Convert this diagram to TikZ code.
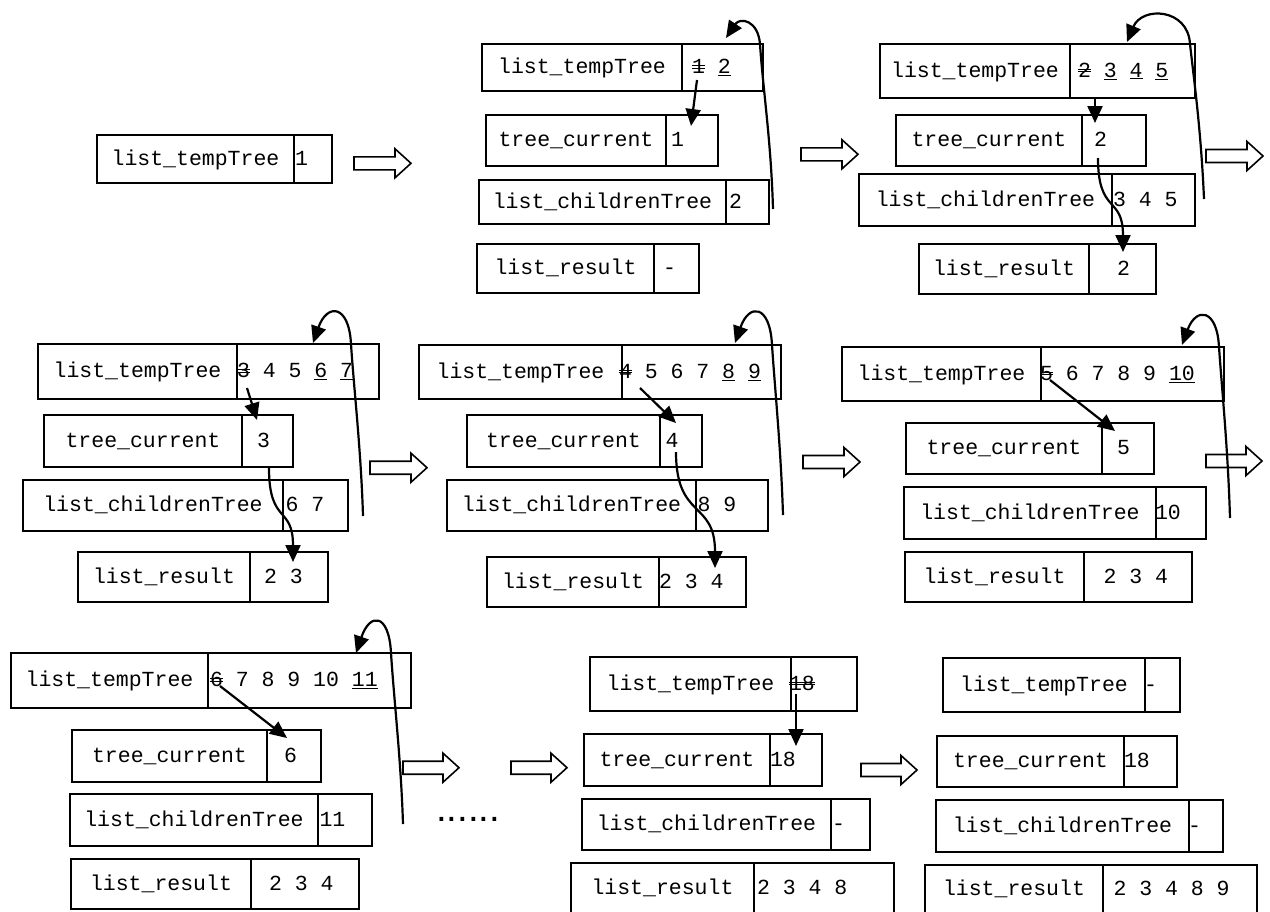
\documentclass[tikz,border=0pt]{standalone}
\usepackage{fontspec}
\newfontfamily\cour{Liberation Mono}
\newfontfamily\sansf{Liberation Sans}
\usetikzlibrary{arrows.meta}
\newcommand\stk[1]{\setbox0\hbox{#1}\rlap{\raisebox{0.22em}{\rule{\wd0}{0.05em}}}\rlap{\raisebox{0.34em}{\rule{\wd0}{0.05em}}}#1}
\newcommand\udl[1]{\underline{#1}}
\tikzset{
  cell/.style={draw, line width=1.6pt, inner sep=0pt, outer sep=0pt,
    font={\cour\fontsize{21.5}{24}\selectfont}, text height=13.3pt, text depth=1pt},
  val/.style={inner sep=0pt, outer sep=0pt, anchor=west,
    font={\cour\fontsize{21.5}{24}\selectfont}, text height=13.3pt, text depth=1pt},
  arr/.style={line width=2.2pt, -{Triangle[length=17pt,width=15pt]}},
  hol/.style={draw, line width=1.6pt, fill=white, line join=miter},
}
% name, x1, xdiv, x2, y1, y2, label, value-x, value
\newcommand\bx[9]{%
  \pgfmathsetmacro\bxwa{#3-#2}\pgfmathsetmacro\bxwb{#4-#3}%
  \pgfmathsetmacro\bxh{#6-#5}\pgfmathsetmacro\bxyc{(#5+#6)/2}%
  \pgfmathsetmacro\bxxa{(#2+#3)/2}\pgfmathsetmacro\bxxb{(#3+#4)/2}%
  \node[cell, minimum width=\bxwa, minimum height=\bxh] (#1l) at (\bxxa,\bxyc) {#7};
  \node[cell, minimum width=\bxwb, minimum height=\bxh] (#1v) at (\bxxb,\bxyc) {};
  \node[val] (#1t) at (#8,\bxyc) {#9};
}
\newcommand\harr[4]{% name, x0, x1, yc
  \coordinate (#1) at (#2,#4);
  \draw[hol] (#2,{#4-6.5}) -- ({#3-16},{#4-6.5}) -- ({#3-16},{#4-14.5}) -- (#3,#4)
     -- ({#3-16},{#4+14.5}) -- ({#3-16},{#4+6.5}) -- (#2,{#4+6.5}) -- cycle;
}
\newcommand\LT{list\_tempTree}
\newcommand\TC{tree\_current}
\newcommand\LK{list\_childrenTree}
\newcommand\LR{list\_result}
\begin{document}
\begin{tikzpicture}[x=1pt,y=-1pt]
\useasboundingbox (0,0) rectangle (1270,911);
\clip (0,0) rectangle (1270,911);
\fill[white] (0,0) rectangle (1270,911);

% hollow step arrows
\harr{h1}{354}{411}{163.3}
\harr{h2}{801}{858}{154.3}
\harr{h3}{1206}{1263}{156}
\harr{h4}{370}{427}{467.7}
\harr{h5}{803}{860}{462}
\harr{h6}{1206}{1262}{461}
\harr{h7}{403}{459}{767.7}
\harr{h8}{511}{567}{767.7}
\harr{h9}{861}{917}{770}

% panel A
\bx{AT}{97}{294}{332}{135}{183}{\LT}{295}{1}
% panel B
\bx{BT}{482}{682}{763}{44}{91}{\LT}{692}{\stk{1} \udl{2}}
\bx{BC}{486}{666}{718}{115}{166}{\TC}{671}{1}
\bx{BK}{479}{726}{769}{180}{224}{\LK}{729}{2}
\bx{BR}{477}{654}{699}{244}{293}{\LR}{663}{-}
% panel C
\bx{CT}{880}{1070}{1195}{44}{98}{\LT}{1078}{\stk{2} \udl{3} \udl{4} \udl{5}}
\bx{CC}{896}{1082}{1146}{115}{166}{\TC}{1094}{2}
\bx{CK}{859}{1112}{1195}{174}{226}{\LK}{1113}{3 4 5}
\bx{CR}{919}{1089}{1156}{244}{294}{\LR}{1117}{2}
% panel D
\bx{DT}{38}{237}{379}{344}{399}{\LT}{237}{\stk{3} 4 5 \udl{6} \udl{7}}
\bx{DC}{44}{242}{293}{415}{467}{\TC}{257}{3}
\bx{DK}{23}{283}{348}{480}{531}{\LK}{285.5}{6 7}
\bx{DR}{78}{250}{328}{552}{602}{\LR}{264}{2 3}
% panel E
\bx{ET}{419}{622}{781}{345}{399}{\LT}{619}{\stk{4} 5 6 7 \udl{8} \udl{9}}
\bx{EC}{467}{660}{702}{415}{467}{\TC}{665.5}{4}
\bx{EK}{447}{696}{768}{480}{531}{\LK}{697.5}{8 9}
\bx{ER}{487}{659}{746}{557}{607}{\LR}{659}{2 3 4}
% panel F
\bx{FT}{842}{1041}{1224}{347}{401}{\LT}{1040}{\stk{5} 6 7 8 9 \udl{10}}
\bx{FC}{906}{1102}{1154}{423}{474}{\TC}{1117}{5}
\bx{FK}{904}{1156}{1206}{487}{539}{\LK}{1155}{10}
\bx{FR}{905}{1084}{1192}{552}{602}{\LR}{1103.5}{2 3 4}
% panel G
\bx{GT}{11}{208}{411}{653}{708}{\LT}{210}{\stk{6} 7 8 9 10 \udl{11}}
\bx{GC}{72}{267}{321}{730}{782}{\TC}{284}{6}
\bx{GK}{70}{318}{372}{794}{846}{\LK}{319.5}{11}
\bx{GR}{71}{251}{359}{859}{909}{\LR}{269}{2 3 4}
% panel H
\bx{HT}{590}{791}{857}{657}{711}{\LT}{789}{\stk{18}}
\bx{HC}{584}{770}{822}{734}{786}{\TC}{770}{18}
\bx{HK}{582}{831}{870}{799}{850}{\LK}{832}{-}
\bx{HR}{571}{754}{894}{863}{914}{\LR}{757}{2 3 4 8}
% panel I
\bx{IT}{943}{1145}{1180}{658}{712}{\LT}{1144}{-}
\bx{IC}{937}{1124}{1177}{736}{787}{\TC}{1124}{18}
\bx{IK}{936}{1189}{1223}{800}{852}{\LK}{1188}{-}
\bx{IR}{925}{1103}{1257}{865}{914}{\LR}{1113.5}{2 3 4 8 9}

% dots
\node[font={\sansf\fontsize{38.4}{40}\selectfont}, inner sep=0pt, anchor=base] (dots) at (468.3,821) {......};

% straight arrows tempTree -> tree_current
\coordinate (Ba) at (697,80);   \coordinate (Bb) at (691,126);
\coordinate (Ca) at (1095,99);  \coordinate (Cb) at (1095,123);
\coordinate (Da) at (247,388);  \coordinate (Db) at (257,420);
\coordinate (Ea) at (640,388);  \coordinate (Eb) at (676,423);
\coordinate (Fa) at (1050,380); \coordinate (Fb) at (1115,431);
\coordinate (Ga) at (220,686);  \coordinate (Gb) at (287,738);
\coordinate (Ha) at (796,694);  \coordinate (Hb) at (796,746);
\foreach \p in {B,C,D,E,F,G,H} \draw[arr] (\p a) -- (\p b);

% S-curves tree_current -> list_result
\coordinate (Cs) at (1098,158); \coordinate (Ce) at (1123,252);
\coordinate (Ds) at (269,468);  \coordinate (De) at (293,562);
\coordinate (Es) at (676,452);  \coordinate (Ee) at (715,568);
\draw[arr] (Cs) .. controls (1098,215) and (1123,195) .. (Ce);
\draw[arr] (Ds) .. controls (269,525) and (293,505) .. (De);
\draw[arr] (Es) .. controls (676,520) and (715,500) .. (Ee);

% loops children -> tempTree
\coordinate (BLs) at (773,209);  \coordinate (BLe) at (726,38);
\coordinate (CLs) at (1204,199); \coordinate (CLe) at (1127,42);
\coordinate (DLs) at (363,516);  \coordinate (DLe) at (313,343);
\coordinate (ELs) at (783,515);  \coordinate (ELe) at (735,343);
\coordinate (FLs) at (1230,518); \coordinate (FLe) at (1182,345);
\coordinate (GLs) at (403,824);  \coordinate (GLe) at (356,653);
\draw[arr] (BLs) .. controls (771,140) and (763,90) .. (760,44) .. controls (758,20) and (740,17) .. (BLe);
\draw[arr] (CLs) .. controls (1201,130) and (1194,80) .. (1190,44) .. controls (1188,8) and (1142,6) .. (CLe);
\draw[arr] (DLs) .. controls (361,450) and (354,390) .. (351,344) .. controls (349,304) and (327,303) .. (DLe);
\draw[arr] (ELs) .. controls (781,450) and (775,390) .. (772,345) .. controls (770,304) and (749,303) .. (ELe);
\draw[arr] (FLs) .. controls (1228,450) and (1222,390) .. (1219,347) .. controls (1217,308) and (1196,307) .. (FLe);
\draw[arr] (GLs) .. controls (401,760) and (394,700) .. (391,653) .. controls (389,613) and (370,612) .. (GLe);
\end{tikzpicture}
\end{document}
